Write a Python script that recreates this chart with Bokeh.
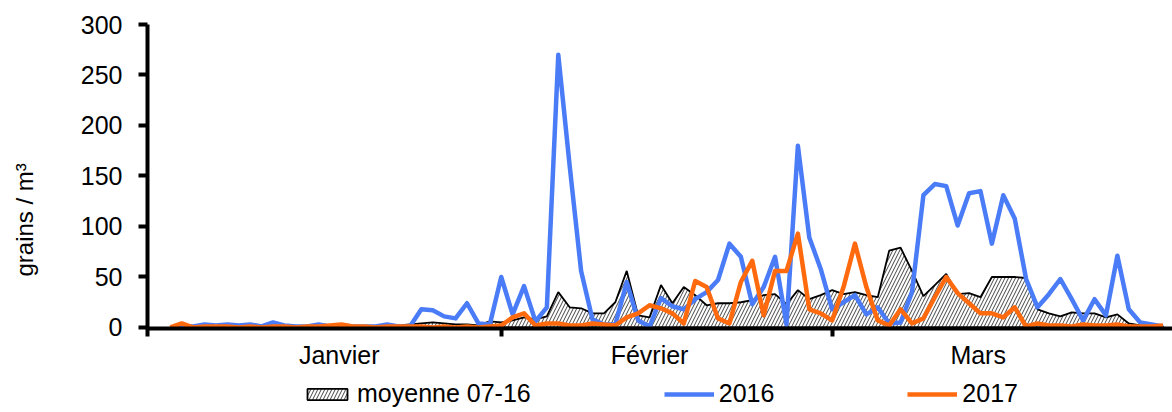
from bokeh.plotting import figure
from bokeh.layouts import column
from bokeh.models import Range1d, FixedTicker, Legend, LegendItem
from bokeh.embed import file_html
from bokeh.resources import INLINE

# ---- data -------------------------------------------------------------
# day index (0 = 1 January), one value per day
jours = list(range(2, 90))

moyenne = [0, 0, 0, 0, 0, 0, 0, 0, 0, 0,      # d2-d11
           0, 0, 1, 1, 1, 1, 1, 1, 1, 1,      # d12-d21
           2, 3, 4, 5, 4, 3, 3, 2, 6, 5,      # d22-d31
           7, 10, 8, 11, 35, 20, 19, 14, 14, 25,   # d32-d41
           56, 12, 10, 42, 24, 40, 32, 22, 24, 24,  # d42-d51
           25, 27, 32, 33, 23, 37, 28, 32, 37, 33,  # d52-d61
           35, 32, 30, 76, 79, 56, 31, 42, 53, 33,  # d62-d71
           34, 30, 50, 50, 50, 49, 18, 14, 11, 15,  # d72-d81
           14, 14, 10, 13, 4, 2, 1, 1]              # d82-d89

an2016 = [0, 1, 1, 3, 2, 3, 2, 3, 1, 5,
          2, 1, 1, 3, 1, 2, 1, 1, 1, 3,
          1, 1, 18, 17, 11, 9, 24, 4, 3, 50,
          13, 41, 6, 20, 270, 160, 56, 8, 3, 3,
          45, 7, 1, 29, 21, 18, 28, 35, 47, 83,
          70, 23, 40, 70, 3, 180, 89, 58, 18, 25,
          32, 13, 20, 4, 5, 35, 131, 142, 140, 101,
          133, 135, 83, 131, 108, 48, 20, 33, 48, 28,
          7, 28, 12, 71, 18, 5, 3, 1]

an2017 = [0, 4, 0, 1, 1, 1, 0, 1, 0, 1,
          1, 0, 1, 1, 2, 3, 1, 1, 0, 1,
          1, 1, 1, 0, 1, 0, 1, 0, 1, 2,
          10, 14, 2, 4, 4, 2, 2, 4, 3, 2,
          10, 14, 22, 19, 14, 4, 46, 40, 9, 4,
          45, 66, 12, 56, 56, 93, 18, 14, 7, 40,
          83, 40, 7, 2, 18, 4, 9, 30, 50, 34,
          24, 14, 14, 10, 20, 1, 4, 2, 2, 1,
          3, 2, 2, 3, 1, 1, 1, 2]

mois = ["Janvier", "Février", "Mars"]
mois_pos = [16.8, 44.0, 72.8]       # label positions
mois_bornes = [0, 31, 60]           # month boundaries (tick marks)
y_ticks = [0, 50, 100, 150, 200, 250, 300]
series = ["moyenne 07-16", "2016", "2017"]

# ---- styles -------------------------------------------------------------
FONT = "Liberation Sans"
AREA = dict(fill_color="white", line_color="black", line_width=1.8,
            hatch_pattern="/", hatch_color="#444444", hatch_scale=7,
            hatch_weight=1)
BLUE = dict(line_color="#4A7CF7", line_width=4.5, line_join="round")
ORANGE = dict(line_color="#FF6A0E", line_width=4.5, line_join="round")

# closed polygon for the area series (down to 0)
xs = jours + [jours[-1], jours[0]]
ys = moyenne + [0, 0]

# ---- main figure ----------------------------------------------------------
p = figure(width=1172, height=372, output_backend="svg", toolbar_location=None,
           x_range=Range1d(0, 89.83), y_range=Range1d(-1, 300),
           min_border_left=147, min_border_right=0, min_border_top=24,
           min_border_bottom=44)
p.grid.visible = False
p.outline_line_color = None
p.background_fill_color = "white"

p.patch(xs, ys, **AREA)
p.line(jours, an2016, **BLUE)
p.line(jours, an2017, **ORANGE)

# y axis
ya = p.yaxis[0]
ya.ticker = FixedTicker(ticks=y_ticks)
ya.axis_line_width = 4
ya.axis_line_color = "black"
ya.major_tick_line_width = 4
ya.major_tick_line_color = "black"
ya.major_tick_out = 9
ya.major_tick_in = 0
ya.minor_tick_line_color = None
ya.major_label_text_font = FONT
ya.major_label_text_font_size = "25px"
ya.major_label_text_color = "black"
ya.major_label_standoff = 16
# trailing no-break spaces push the visible text lower along the axis
ya.axis_label = "grains / m³" + "\u00a0" * 13
ya.axis_label_text_font = FONT
ya.axis_label_text_font_size = "24px"
ya.axis_label_text_font_style = "normal"
ya.axis_label_text_color = "black"
ya.axis_label_standoff = 40

# x axis
xa = p.xaxis[0]
xa.ticker = FixedTicker(ticks=mois_pos, minor_ticks=mois_bornes)
xa.major_label_overrides = {pos: m for pos, m in zip(mois_pos, mois)}
xa.axis_line_width = 4
xa.axis_line_color = "black"
xa.major_tick_line_color = None
xa.major_tick_out = 8
xa.major_tick_in = 0
xa.minor_tick_line_color = "black"
xa.minor_tick_line_width = 4
xa.minor_tick_out = 8
xa.minor_tick_in = 0
xa.major_label_text_font = FONT
xa.major_label_text_font_size = "25px"
xa.major_label_text_color = "black"
xa.major_label_standoff = 4

# ---- legend strip under the chart ------------------------------------------
# same series, drawn outside the visible range: only the legend shows
lg = figure(width=1172, height=40, output_backend="svg", toolbar_location=None,
            x_range=Range1d(0, 89.83), y_range=Range1d(1000, 1001),
            x_axis_type=None, y_axis_type=None, min_border=0)
lg.grid.visible = False
lg.outline_line_color = None
k_area = lg.patch(xs, ys, **AREA)
k16 = lg.line(jours, an2016, **BLUE)
k17 = lg.line(jours, an2017, **ORANGE)

legend = Legend(items=[LegendItem(label=series[0], renderers=[k_area]),
                       LegendItem(label=series[1], renderers=[k16]),
                       LegendItem(label=series[2], renderers=[k17])],
                location=(155, 4), orientation="horizontal",
                border_line_color=None, background_fill_alpha=0,
                padding=0, margin=0, spacing=133,
                glyph_width=50, glyph_height=14, label_standoff=5,
                label_text_font=FONT, label_text_font_size="25px",
                label_text_color="black")
lg.add_layout(legend)

page = column(p, lg, spacing=0)
open("out.html", "w").write(file_html(page, INLINE))
